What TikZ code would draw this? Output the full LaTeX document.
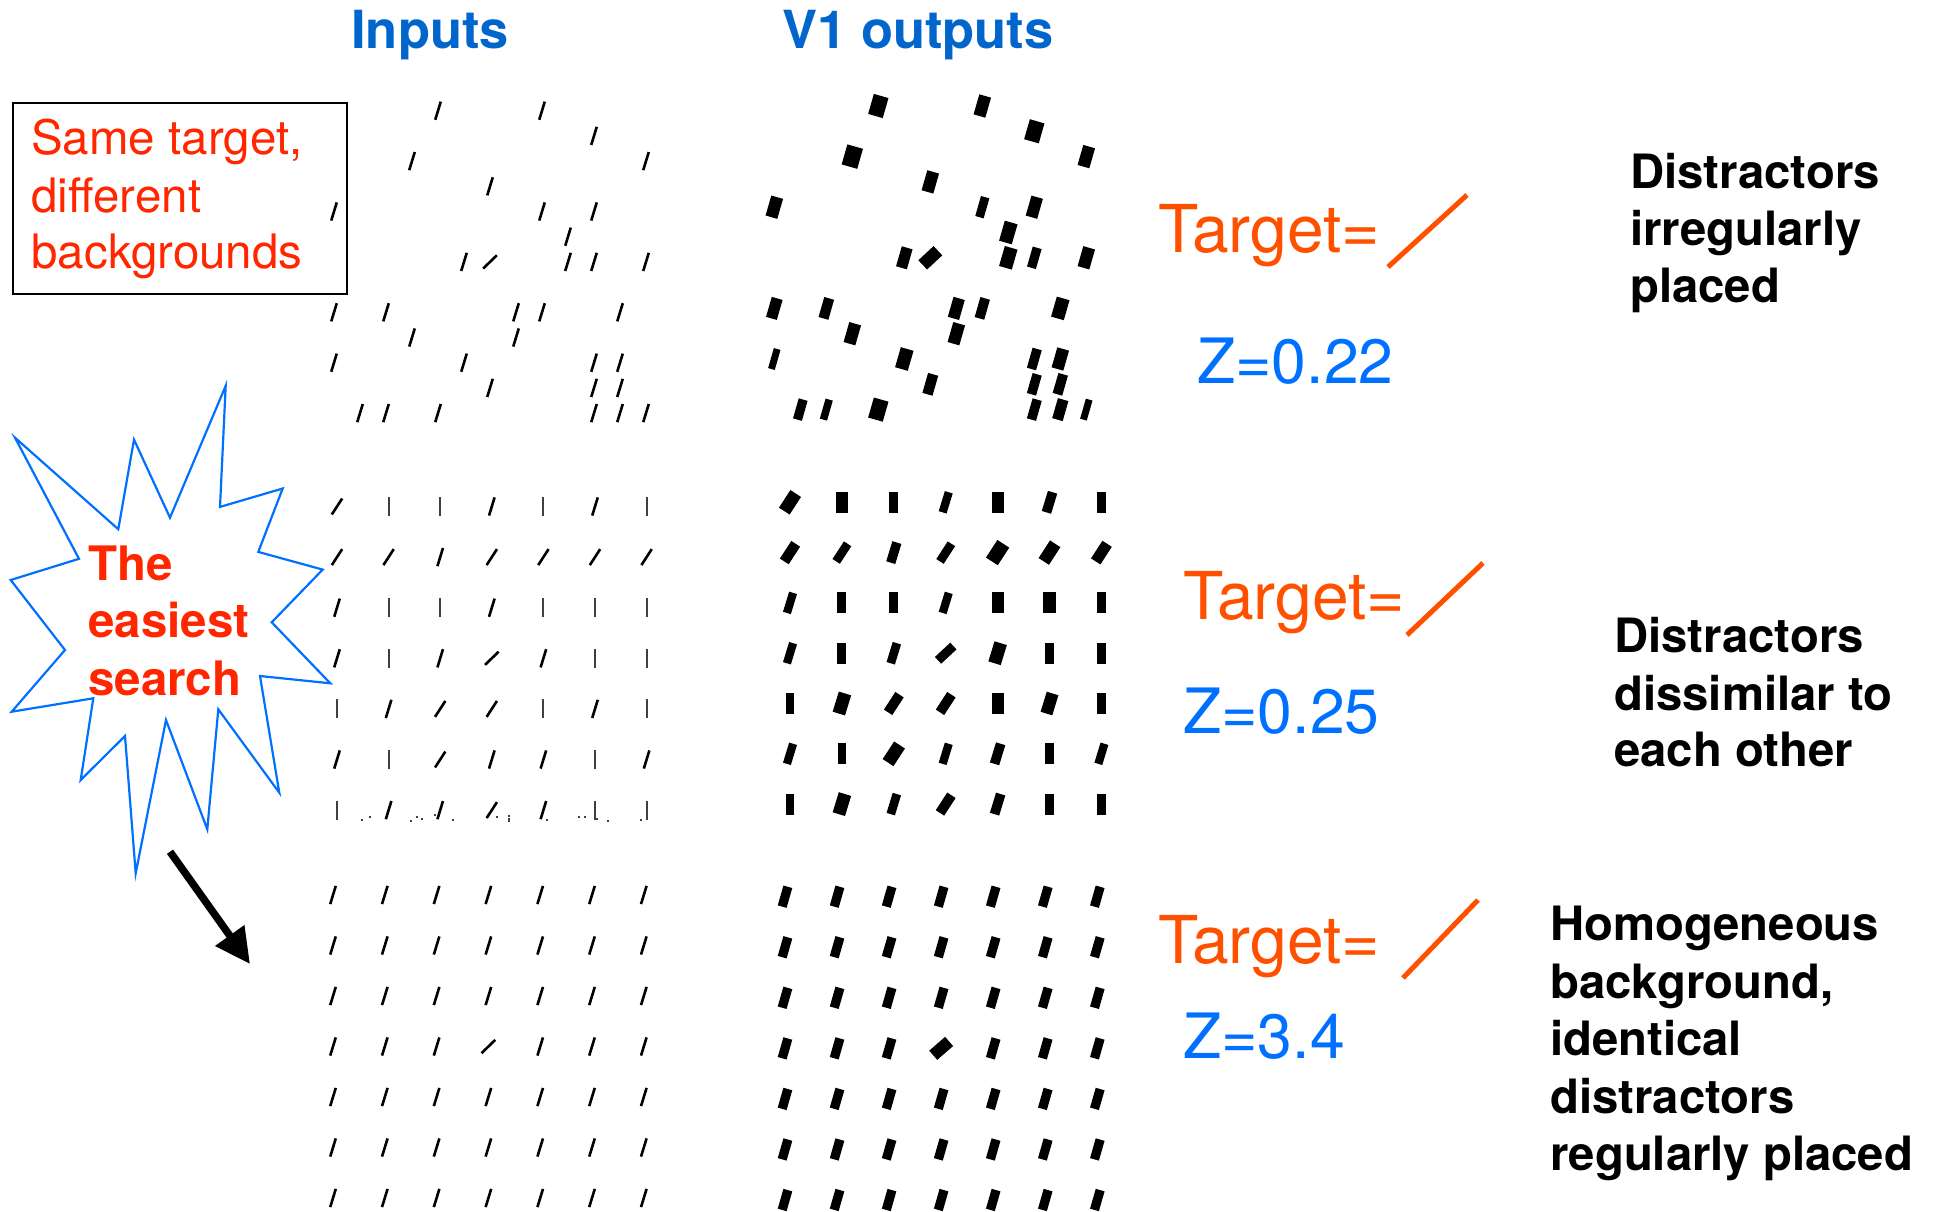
\documentclass[tikz,border=0pt]{standalone}
\usepackage{fontspec}
\setmainfont{TeX Gyre Heros}
\usetikzlibrary{arrows.meta}

\definecolor{headblue}{RGB}{0,102,204}
\definecolor{scoreblue}{RGB}{0,112,255}
\definecolor{burstblue}{RGB}{0,112,255}
\definecolor{notered}{RGB}{255,38,0}
\definecolor{targetorange}{RGB}{255,80,0}

% one oriented input bar: x, y, tilt (degrees clockwise from vertical)
\newcommand{\InBar}[3]{%
  \ifnum#3=0
    \draw[inbarv, shift={(#1,#2)}] (0pt,-9.5pt) -- (0pt,9.5pt);%
  \else
    \draw[inbar, shift={(#1,#2)}, rotate=-#3] (0pt,-9.5pt) -- (0pt,9.5pt);%
  \fi}
% one V1 response blob: x, y, tilt, width, height (widths get a small boost)
\newcommand{\OutBar}[5]{%
  \fill[shift={(#1,#2)}, rotate=-#3] ({-(#4+1.2)/2},{-(#5+1)/2}) rectangle ({(#4+1.2)/2},{(#5+1)/2});}

\begin{document}
\begin{tikzpicture}[x=1pt, y=-1pt,
  inbar/.style={line width=2.6pt, black},
  inbarv/.style={line width=1.9pt, black!75},
  txt/.style={inner sep=0pt, anchor=base west},
  headfont/.style={font=\fontsize{52.5}{60}\selectfont\bfseries, text=headblue},
  notefont/.style={font=\fontsize{47.5}{57}\selectfont, text=notered},
  burstfont/.style={font=\fontsize{47.5}{57}\selectfont\bfseries, text=notered},
  targetfont/.style={font=\fontsize{66}{72}\selectfont, text=targetorange},
  scorefont/.style={font=\fontsize{62.5}{70}\selectfont, text=scoreblue},
  descfont/.style={font=\fontsize{47.3}{57}\selectfont\bfseries, text=black},
  targetline/.style={line width=5pt, targetorange},
]
\useasboundingbox (0,0) rectangle (1935,1212);

% column headings
\node[txt, headfont] (hin) at (351,49) {Inputs};
\node[txt, headfont] (hout) at (782,49) {V1 outputs};

% boxed note
\node[draw, line width=2pt, anchor=north west, inner sep=0pt,
      minimum width=334pt, minimum height=191pt] (notebox) at (12,102) {};
\node[txt, notefont] (note1) at (31,154) {Same target,};
\node[txt, notefont] (note2) at (31,212) {different};
\node[txt, notefont] (note3) at (31,268) {backgrounds};

% starburst
\draw[burstblue, line width=2.2pt, line join=miter]
  (225.7,385.8) -- (220.0,506.9) -- (282.7,488.5) -- (258.3,551.9) --
  (322.7,569.6) -- (271.7,622.3) -- (330.3,683.3) -- (260.0,676.0) --
  (279.3,792.7) -- (218.3,709.3) -- (207.3,829.3) -- (166.0,720.0) --
  (135.7,873.3) -- (125.0,736.0) -- (80.7,780.0) -- (93.3,698.3) --
  (11.7,711.7) -- (65.0,650.0) -- (10.7,580.0) -- (79.0,558.8) --
  (15.0,437.7) -- (118.3,529.2) -- (134.0,439.6) -- (170.0,517.7) -- cycle;
\node[txt, burstfont] (burst1) at (88,580) {The};
\node[txt, burstfont] (burst2) at (88,637) {easiest};
\node[txt, burstfont] (burst3) at (88,695) {search};

% pointer to the bottom display
\coordinate (arrS) at (170,851.7);
\coordinate (arrE) at (250,964);
\draw[line width=7.5pt, -{Triangle[length=35pt, width=34pt]}] (arrS) -- (arrE);

% ---------- top row: irregular placement ----------
\foreach \c/\r/\a in {4/0/17, 8/0/17, 10/1/17, 3/2/17, 12/2/17, 6/3/17,
    0/4/17, 8/4/17, 10/4/17, 9/5/17, 5/6/17, 6/6/46, 9/6/17, 10/6/17,
    12/6/17, 0/8/17, 2/8/17, 7/8/17, 8/8/17, 11/8/17, 3/9/17, 7/9/17,
    0/10/17, 5/10/17, 10/10/17, 11/10/17, 6/11/17, 10/11/17, 11/11/17,
    1/12/17, 2/12/17, 4/12/17, 10/12/17, 11/12/17, 12/12/17} {
  \pgfmathsetmacro\px{334+26*\c}
  \pgfmathsetmacro\py{110.7+25.2*\r}
  \InBar{\px}{\py}{\a}
}
\foreach \c/\r/\a/\w in {4/0/16/14, 8/0/16/11, 10/1/16/14, 3/2/16/15,
    12/2/16/11, 6/3/16/11, 0/4/16/11, 8/4/16/7.5, 10/4/16/10.7, 9/5/16/12,
    5/6/16/10, 6/6/47/11.5, 9/6/16/12, 10/6/16/8, 12/6/16/11, 0/8/16/10,
    2/8/16/9, 7/8/16/10.5, 8/8/16/8.7, 11/8/16/12, 3/9/16/11, 7/9/16/11,
    0/10/16/5.7, 5/10/16/12, 10/10/16/8.3, 11/10/16/11, 6/11/16/9.3,
    10/11/16/8.3, 11/11/16/8.7, 1/12/16/8, 2/12/16/6.3, 4/12/16/14,
    10/12/16/8.3, 11/12/16/9.7, 12/12/16/5.7} {
  \pgfmathsetmacro\px{774.3+26*\c}
  \pgfmathsetmacro\py{106+25.3*\r}
  \OutBar{\px}{\py}{\a}{\w}{19.8}
}

% ---------- middle row: dissimilar distractors ----------
\foreach \row [count=\j from 0] in {
    {33,0,0,17,0,17,0},
    {33,33,17,33,33,33,33},
    {17,0,0,17,0,0,0},
    {17,0,17,46,17,0,0},
    {0,17,33,33,0,17,0},
    {17,0,33,17,17,0,17},
    {0,17,17,33,17,0,0}} {
  \foreach \a [count=\i from 0] in \row {
    \pgfmathsetmacro\px{337+51.6*\i}
    \pgfmathsetmacro\py{506.5+50.6*\j}
    \InBar{\px}{\py}{\a}
  }
}
\foreach \x/\y in {336.7/819, 361.7/820, 370/816.7, 410.7/820.7, 416.7/817.3,
    421.7/819, 435/815, 453.3/820, 496.7/816.7, 509.3/816, 509.3/818.7,
    509.3/821.3, 546.7/820, 579.3/816.7, 585/816.7, 597.3/819, 608.3/820.7,
    640.7/820} {
  \fill[black!75] (\x-1,\y-1) rectangle (\x+1,\y+1);
}
\foreach \row [count=\j from 0] in {
    {33/11.5, 0/10.7, 0/8, 17/7, 0/11, 17/8.5, 0/7.7},
    {33/9.3, 33/7.6, 17/8.2, 33/7.6, 33/12.9, 33/11.2, 33/10},
    {17/7, 0/7.7, 0/8, 17/7, 0/11, 0/11, 0/7.7},
    {17/7, 0/7.7, 17/7.5, 47/8, 17/11.7, 0/8.3, 0/8.3},
    {0/7.3, 17/11.7, 33/8.8, 33/8.8, 0/11, 17/11, 0/7.7},
    {17/7, 0/7, 33/11.7, 17/7, 17/8.5, 0/8.3, 17/7},
    {0/7.7, 17/11.7, 17/7.5, 33/8.8, 17/8.5, 0/8.3, 0/7.7}} {
  \foreach \a/\w [count=\i from 0] in \row {
    \pgfmathsetmacro\px{790+51.9*\i}
    \pgfmathsetmacro\py{502.3+50.3*\j}
    \OutBar{\px}{\py}{\a}{\w}{20}
  }
}

% ---------- bottom row: homogeneous lattice ----------
\foreach \j in {0,...,6} {
  \foreach \i in {0,...,6} {
    \pgfmathsetmacro\px{333+51.8*\i}
    \pgfmathsetmacro\py{895+50.5*\j}
    \pgfmathsetmacro\qx{785+52.05*\i}
    \pgfmathsetmacro\qy{896.7+50.55*\j}
    \pgfmathtruncatemacro\istarget{(\i==3)&&(\j==3)}
    \ifnum\istarget=1
      \InBar{\px}{\py}{46}
      \OutBar{\qx}{\qy}{49}{11}{20}
    \else
      \InBar{\px}{\py}{17}
      \OutBar{\qx}{\qy}{16}{8}{19.6}
    \fi
  }
}

% ---------- targets and scores ----------
\node[txt, targetfont] (tgt1) at (1158,252) {Target=};
\coordinate (sl1a) at (1388,267);
\coordinate (sl1b) at (1467,195);
\draw[targetline] (sl1a) -- (sl1b);
\node[txt, scorefont] (z1) at (1197,383) {Z=0.22};

\node[txt, targetfont] (tgt2) at (1183,619) {Target=};
\coordinate (sl2a) at (1407,635);
\coordinate (sl2b) at (1483,563);
\draw[targetline] (sl2a) -- (sl2b);
\node[txt, scorefont] (z2) at (1183,733) {Z=0.25};

\node[txt, targetfont] (tgt3) at (1158,963) {Target=};
\coordinate (sl3a) at (1403,978);
\coordinate (sl3b) at (1478,900);
\draw[targetline] (sl3a) -- (sl3b);
\node[txt, scorefont] (z3) at (1183,1058) {Z=3.4};

% ---------- descriptions ----------
\node[txt, descfont] (d1a) at (1630,188) {Distractors};
\node[txt, descfont] (d1b) at (1630,245) {irregularly};
\node[txt, descfont] (d1c) at (1630,302) {placed};

\node[txt, descfont] (d2a) at (1614,652) {Distractors};
\node[txt, descfont] (d2b) at (1614,710) {dissimilar to};
\node[txt, descfont] (d2c) at (1614,766) {each other};

\node[txt, descfont] (d3a) at (1550,940) {Homogeneous};
\node[txt, descfont] (d3b) at (1550,998) {background,};
\node[txt, descfont] (d3c) at (1550,1055) {identical};
\node[txt, descfont] (d3d) at (1550,1113) {distractors};
\node[txt, descfont] (d3e) at (1550,1170) {regularly placed};
\end{tikzpicture}
\end{document}
